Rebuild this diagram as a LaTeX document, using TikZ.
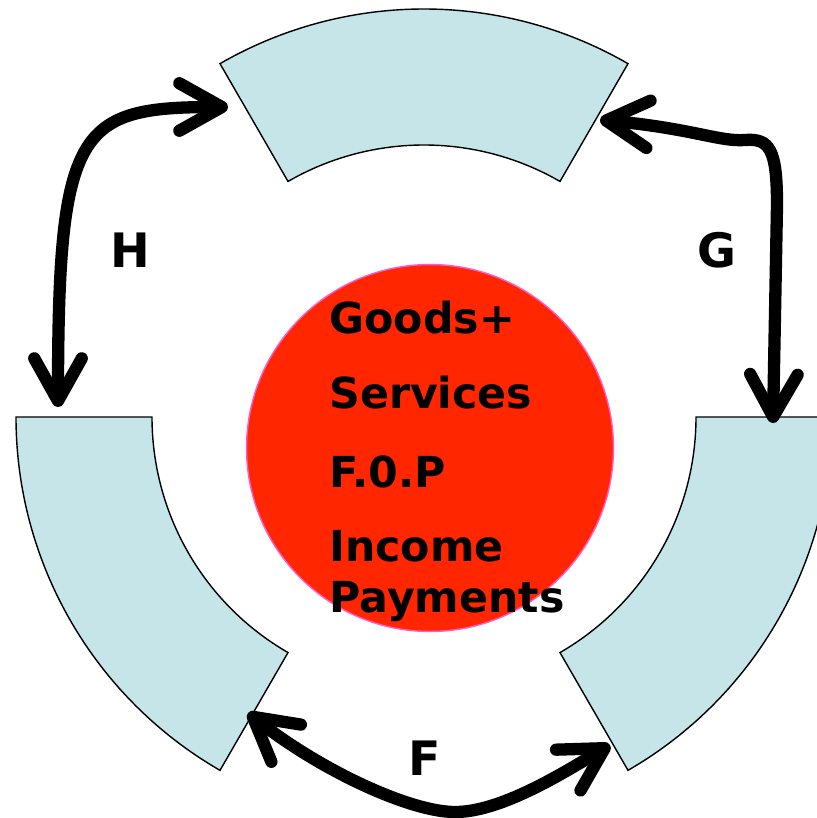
\documentclass[tikz,border=0pt]{standalone}
\usepackage{fontspec}
\setmainfont{DejaVu Sans}
\usetikzlibrary{arrows.meta}

\definecolor{segblue}{RGB}{197,229,232}
\definecolor{corered}{RGB}{255,38,0}
\definecolor{corerim}{RGB}{255,90,200}

\begin{document}
\begin{tikzpicture} [x = 0.02cm, y = -0.02cm,
    seg/.style = {fill = segblue, draw = black, line width = 0.8pt},
    word/.style = {anchor = base west, inner sep = 0pt, font = \bfseries\fontsize{24.3}{29}\selectfont},
    tag/.style = {inner sep = 0pt, font = \bfseries\fontsize{27}{32}\selectfont},
    flow/.style = {line width = 7pt, line cap = round, {Straight Barb[length = 0.85cm, width = 0.95cm, round]}-{Straight Barb[length = 0.85cm, width = 0.95cm, round]}}]
    \useasboundingbox (0,0) rectangle (817,818);
    \clip (0,0) rectangle (817,818);

    % the three sectors
    \begin{scope} [shift = {(424,417)}]
        \draw [seg] (-120:408) arc (-120:-60:408) -- (-60:272) arc (-60:-120:272) -- cycle;
        \draw [seg] (120:408) arc (120:180:408) -- (180:272) arc (180:120:272) -- cycle;
        \draw [seg] (0:408) arc (0:60:408) -- (60:272) arc (60:0:272) -- cycle;
    \end{scope}

    \node (core) [circle, fill = corered, draw = corerim, line width = 0.8pt, inner sep = 0pt, minimum size = 7.34cm] at (430,448) {};
    \node (goods) [word] at (329,333) {Goods+};
    \node (services) [word] at (329,408) {Services};
    \node (fop) [word] at (329,487) {F.0.P};
    \node (income) [word] at (329,561) {Income};
    \node (payments) [word] at (329,612) {Payments};

    \node (h) [tag] at (130,250) {H};
    \node (g) [tag] at (717,250) {G};
    \node (f) [tag] at (425,758) {F};

    \coordinate (hTop) at (228,107);
    \coordinate (hBot) at (58,407);
    \coordinate (gTop) at (600,120);
    \coordinate (gBot) at (773,423);
    \coordinate (fLeft) at (248,713);
    \coordinate (fRight) at (610,745);

    \draw [flow] (hBot) .. controls +(0,-280) and +(-150,0) .. (hTop);
    \draw [flow] (gTop) .. controls +(90,8) and +(-25,2) .. (745,140) .. controls +(25,-2) and +(0,-55) .. (777,205) -- (gBot);
    \draw [flow] (fLeft) .. controls +(72,57) and +(-45,0) .. (455,812) .. controls +(45,0) and +(-50,30) .. (fRight);
\end{tikzpicture}
\end{document}
